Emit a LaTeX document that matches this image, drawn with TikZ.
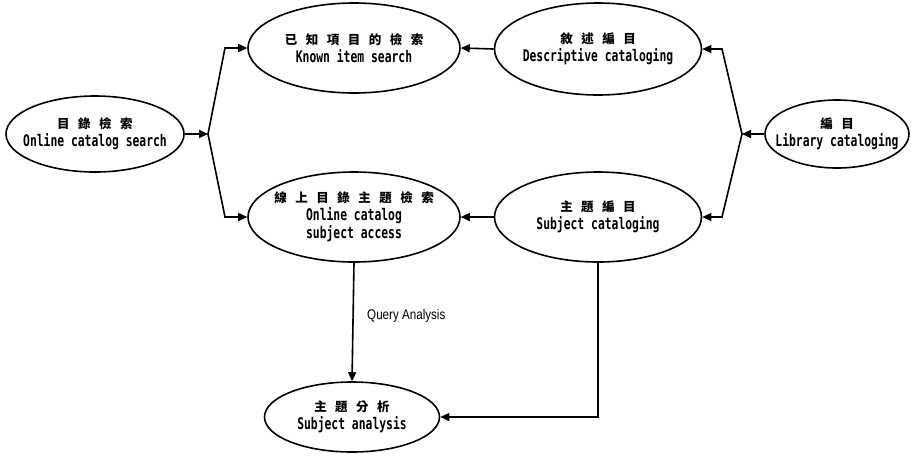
\documentclass[tikz,border=0pt]{standalone}
\usepackage{fontspec}
\usetikzlibrary{shapes.geometric,arrows.meta}
\newfontfamily\enfont{DejaVu Sans Mono}[FakeStretch=0.71]
\newfontfamily\cjkfont{Noto Sans CJK TC}
\newfontfamily\lblfont{Liberation Sans}[FakeStretch=0.83]
\newcommand\gp{\hspace{8.5pt}}
\newcommand\zh[1]{{\cjkfont\bfseries\fontsize{12.5}{18}\selectfont #1}}
\begin{document}
\begin{tikzpicture}[x=1pt,y=-1pt,
  ell/.style={ellipse,draw,line width=1.6pt,inner sep=0pt},
  txt/.style={align=center,inner sep=0pt,font=\enfont\bfseries\fontsize{16}{18}\selectfont},
  arr/.style={line width=1.6pt,-{Triangle[length=9pt,width=8pt]}}]
\useasboundingbox (0,0) rectangle (911,456);
\node[ell,minimum width=178pt,minimum height=76pt,label={[txt]center:\zh{目\gp{}錄\gp{}檢\gp{}索}\\Online catalog search}] (ocs) at (95,134) {};
\node[ell,minimum width=212pt,minimum height=90pt,label={[txt]center:\zh{已\gp{}知\gp{}項\gp{}目\gp{}的\gp{}檢\gp{}索}\\Known item search}] (kis) at (354,48) {};
\node[ell,minimum width=207pt,minimum height=92pt,label={[txt]center:\zh{敘\gp{}述\gp{}編\gp{}目}\\Descriptive cataloging}] (desc) at (598,49) {};
\node[ell,minimum width=144pt,minimum height=68pt,label={[txt]center:\zh{編\gp{}目}\\Library cataloging}] (lib) at (837,134) {};
\node[ell,minimum width=212pt,minimum height=90pt,label={[txt]center:\zh{線\gp{}上\gp{}目\gp{}錄\gp{}主\gp{}題\gp{}檢\gp{}索}\\Online catalog\\subject access}] (ocsa) at (354,217) {};
\node[ell,minimum width=207pt,minimum height=90pt,label={[txt]center:\zh{主\gp{}題\gp{}編\gp{}目}\\Subject cataloging}] (subc) at (598,217) {};
\node[ell,minimum width=175pt,minimum height=70pt,label={[txt]center:\zh{主\gp{}題\gp{}分\gp{}析}\\Subject analysis}] (sa) at (352,417) {};
\coordinate (spL) at (208,134);
\coordinate (c1) at (225,48);
\coordinate (c2) at (225,217);
\coordinate (spR) at (742,134);
\coordinate (c3) at (722,49);
\coordinate (c4) at (722,217);
\draw[arr] (ocs.east) -- (spL);
\draw[arr] (spL) -- (c1) -- (kis.west);
\draw[arr] (spL) -- (c2) -- (ocsa.west);
\draw[arr] (lib.west) -- (spR);
\draw[arr] (spR) -- (c3) -- (desc.east);
\draw[arr] (spR) -- (c4) -- (subc.east);
\draw[arr] (desc.west) -- (kis.east);
\draw[arr] (subc.west) -- (ocsa.east);
\draw[arr] (ocsa.south) -- node[pos=0.45,right=10pt,font=\lblfont\fontsize{14}{16}\selectfont] (qa) {Query Analysis} (sa.north);
\draw[arr] (subc.south) |- (sa.east);
\end{tikzpicture}
\end{document}
